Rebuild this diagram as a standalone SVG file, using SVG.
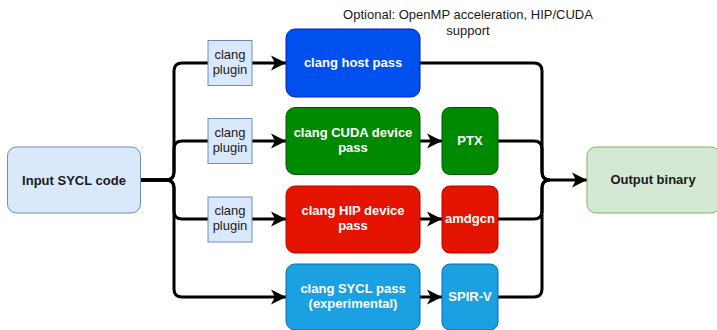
<svg xmlns="http://www.w3.org/2000/svg" width="717" height="330" viewBox="0 0 717 330">
<style>
text{font-family:"Liberation Sans",Arial,sans-serif;font-size:13px;text-anchor:middle;dominant-baseline:central}
.b{font-weight:bold}
.w{fill:#ffffff;font-weight:bold}
.k{fill:#1a1a1a}
.edge{fill:none;stroke:#000;stroke-width:3;stroke-linejoin:round}
.lt{fill:#dae8fc;stroke:#6c8ebf;stroke-width:1}
.gr{fill:#d5e8d4;stroke:#82b366;stroke-width:1}
.blue{fill:#0050ef;stroke:#001dbc}
.green{fill:#008a00;stroke:#005700}
.red{fill:#e51400;stroke:#b20000}
.sky{fill:#1ba1e2;stroke:#006eaf}
</style>
<defs>
<marker id="arr" markerUnits="userSpaceOnUse" markerWidth="16" markerHeight="16" refX="15" refY="7.5" orient="auto" viewBox="0 0 16 15">
<path d="M0,0 L15,7.5 L0,15 L4,7.5 Z" fill="#000"/>
</marker>
</defs>
<g id="connectors">
<path class="edge" d="M141,180 H166 Q174,180 174,172 V71 Q174,63 182,63 H286" marker-end="url(#arr)"/>
<path class="edge" d="M141,180 H166 Q174,180 174,172 V149 Q174,141 182,141 H286" marker-end="url(#arr)"/>
<path class="edge" d="M141,180 H166 Q174,180 174,188 V211 Q174,219 182,219 H286" marker-end="url(#arr)"/>
<path class="edge" d="M141,180 H166 Q174,180 174,188 V289 Q174,297 182,297 H286" marker-end="url(#arr)"/>
<path class="edge" d="M420,141 H442" marker-end="url(#arr)"/>
<path class="edge" d="M420,219 H442" marker-end="url(#arr)"/>
<path class="edge" d="M420,297 H442" marker-end="url(#arr)"/>
<path class="edge" d="M420,63 H534 Q542,63 542,71 V172 Q542,180 550,180 H587" marker-end="url(#arr)"/>
<path class="edge" d="M498,141 H534 Q542,141 542,149 V172 Q542,180 550,180"/>
<path class="edge" d="M498,219 H534 Q542,219 542,211 V188 Q542,180 550,180"/>
<path class="edge" d="M498,297 H534 Q542,297 542,289 V188 Q542,180 550,180"/>
</g>
<g id="note">
<text class="k" x="468" y="14">Optional: OpenMP acceleration, HIP/CUDA</text>
<text class="k" x="468" y="30">support</text>
</g>
<g id="input">
<rect class="lt" x="7.5" y="147" width="133" height="66" rx="9"/>
<text class="b k" x="74" y="180">Input SYCL code</text>
</g>
<g id="plugin1">
<rect class="lt" x="208" y="40.5" width="44" height="45"/>
<text class="k" x="230" y="54">clang</text><text class="k" x="230" y="69">plugin</text>
</g>
<g id="plugin2">
<rect class="lt" x="208" y="118.5" width="44" height="45"/>
<text class="k" x="230" y="132">clang</text><text class="k" x="230" y="147">plugin</text>
</g>
<g id="plugin3">
<rect class="lt" x="208" y="197" width="44" height="45"/>
<text class="k" x="230" y="210">clang</text><text class="k" x="230" y="225">plugin</text>
</g>
<g id="host">
<rect class="blue" x="286" y="29" width="134" height="68" rx="9"/>
<text class="w" x="353" y="62">clang host pass</text>
</g>
<g id="cuda">
<rect class="green" x="286" y="107.5" width="134" height="67" rx="9"/>
<text class="w" x="353" y="132">clang CUDA device</text><text class="w" x="353" y="147">pass</text>
</g>
<g id="hip">
<rect class="red" x="286" y="186" width="134" height="67" rx="9"/>
<text class="w" x="353" y="210">clang HIP device</text><text class="w" x="353" y="225">pass</text>
</g>
<g id="sycl">
<rect class="sky" x="286" y="264" width="134" height="66" rx="9"/>
<text class="w" x="353" y="288">clang SYCL pass</text><text class="w" x="353" y="303">(experimental)</text>
</g>
<g id="ptx">
<rect class="green" x="442" y="107.5" width="56" height="67" rx="8"/>
<text class="w" x="470" y="140">PTX</text>
</g>
<g id="amdgcn">
<rect class="red" x="442" y="186" width="56" height="67" rx="8"/>
<text class="w" x="470" y="218">amdgcn</text>
</g>
<g id="spirv">
<rect class="sky" x="442" y="264" width="56" height="66" rx="8"/>
<text class="w" x="470" y="296">SPIR-V</text>
</g>
<g id="output">
<rect class="gr" x="587" y="147" width="133" height="66" rx="9"/>
<text class="b k" x="653" y="179">Output binary</text>
</g>
</svg>
